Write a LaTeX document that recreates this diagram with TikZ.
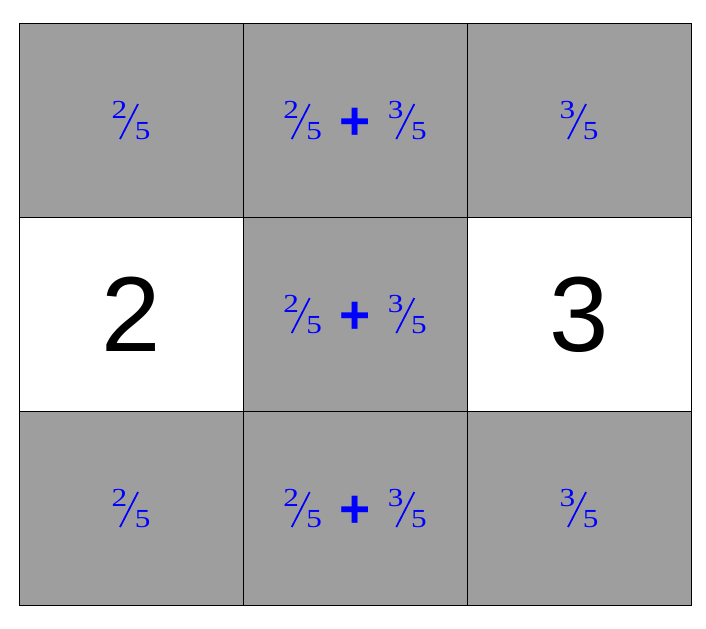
\documentclass[tikz,border=0pt]{standalone}
\usepackage{fontspec}
\setmainfont{Liberation Serif}
\newfontfamily\arialfont{Liberation Sans}
\usetikzlibrary{positioning}
\definecolor{cellgrey}{HTML}{9E9E9E}
% slanted fraction: raised numerator, slash, lowered denominator
\newcommand{\wdig}[1]{\scalebox{1.2}[1]{#1}}
\newcommand{\fr}[2]{{\fontsize{19.5}{19.5}\selectfont\raisebox{15.75pt}{\wdig{#1}}\kern-6pt\rotatebox{62.8}{\rule{29.5pt}{1.3pt}}\kern-3pt\wdig{#2}}}
\newcommand{\plusop}{\hspace{13pt}{\arialfont\bfseries\fontsize{40}{40}\selectfont +}\hspace{13pt}}

\begin{document}
\begin{tikzpicture}[x=0.75pt,y=-0.75pt,
  cell/.style={draw=black, line width=0.75pt, outer sep=0pt, inner sep=0pt, minimum width=168pt, minimum height=145.5pt, fill=cellgrey, text=blue},
  blank/.style={cell, fill=white, text=black, font=\arialfont\fontsize{80}{80}\selectfont}]
\useasboundingbox (0,0) rectangle (706,628);
% top row
\node [cell] (tl) at (131,120.5) {\fr{2}{5}};
\node [cell, right=0pt of tl] (tm) {\fr{2}{5}\plusop\fr{3}{5}};
\node [cell, right=0pt of tm] (tr) {\fr{3}{5}};
% middle row
\node [blank, below=0pt of tl] (ml) {2};
\node [cell, right=0pt of ml] (mm) {\fr{2}{5}\plusop\fr{3}{5}};
\node [blank, right=0pt of mm] (mr) {3};
% bottom row
\node [cell, below=0pt of ml] (bl) {\fr{2}{5}};
\node [cell, right=0pt of bl] (bm) {\fr{2}{5}\plusop\fr{3}{5}};
\node [cell, right=0pt of bm] (br) {\fr{3}{5}};
\end{tikzpicture}
\end{document}
